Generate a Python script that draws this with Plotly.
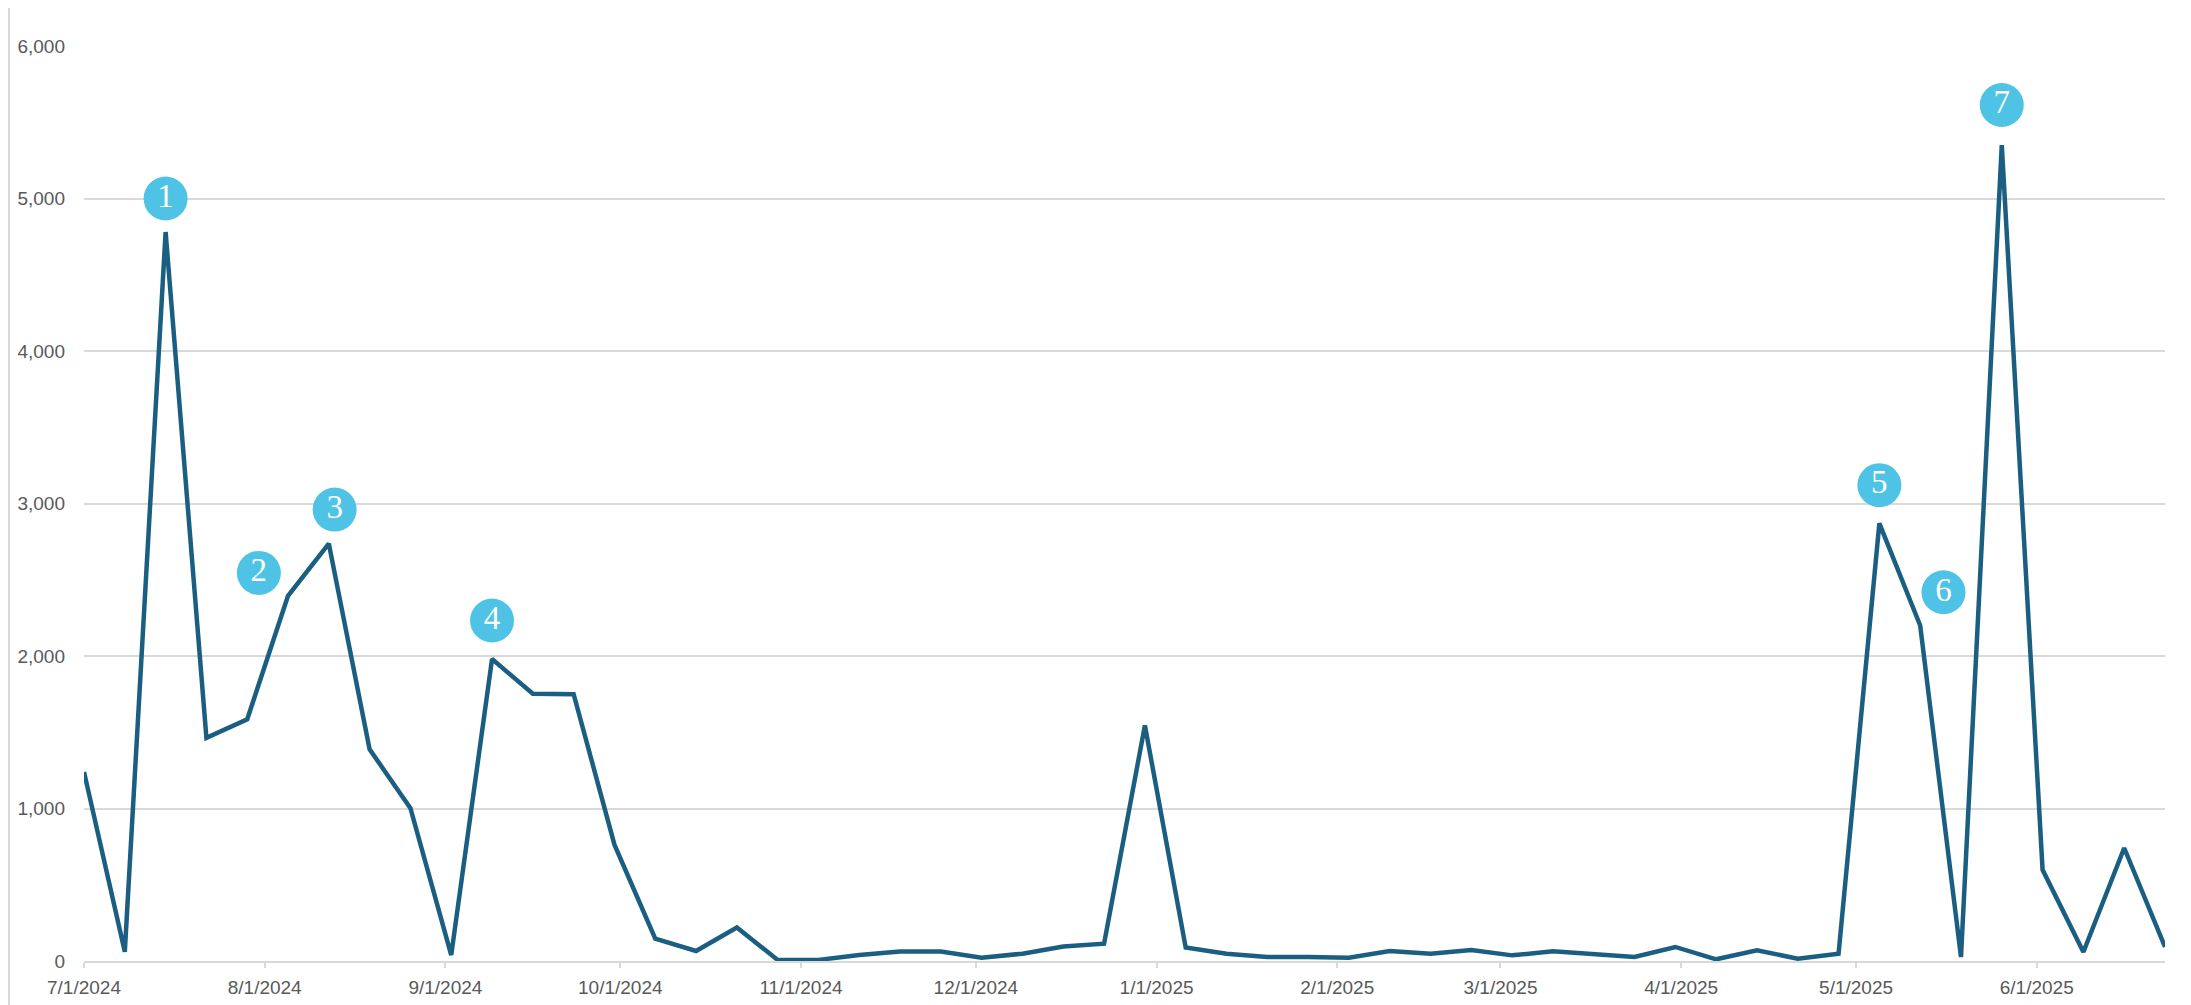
import pandas as pd
import plotly.graph_objects as go

# Weekly series starting 7/1/2024
start_date = "2024-07-01"
values = [1240, 60, 4780, 1463, 1585, 2395, 2737, 1388, 1002, 39,
          1980, 1752, 1750, 763, 147, 66, 220, 7, 7, 40,
          62, 62, 22, 48, 95, 114, 1545, 88, 48, 26,
          26, 22, 66, 48, 72, 37, 64, 48, 26, 92,
          11, 70, 15, 48, 2870, 2200, 26, 5350, 598, 59,
          741, 92]
dates = pd.date_range(start_date, periods=len(values), freq="7D")

# Numbered callouts
marker_labels = ["1", "2", "3", "4", "5", "6", "7"]
marker_dates = ["2024-07-15", "2024-07-31", "2024-08-13", "2024-09-09",
                "2025-05-05", "2025-05-16", "2025-05-26"]
marker_values = [5000, 2545, 2960, 2233, 3120, 2418, 5613]

tick_dates = pd.date_range("2024-07-01", "2025-06-01", freq="MS")
tick_text = [f"{d.month}/{d.day}/{d.year}" for d in tick_dates]

# page body has an 8px default margin; compensate
W, H = 2183, 997
ml, mr, mt, mb = 76, 26, 38, 44

fig = go.Figure()
fig.add_trace(go.Scatter(x=dates, y=values, mode="lines",
                         line=dict(color="#1A5F82", width=4.5),
                         hoverinfo="x+y", showlegend=False))
fig.add_trace(go.Scatter(x=pd.to_datetime(marker_dates), y=marker_values,
                         mode="markers+text", text=marker_labels,
                         textposition="middle center",
                         textfont=dict(family="Liberation Serif, DejaVu Serif, serif",
                                       size=33, color="white"),
                         marker=dict(size=44, color="#4EC3E6", line=dict(width=0)),
                         showlegend=False, hoverinfo="skip"))

fig.update_layout(
    width=W, height=H,
    margin=dict(l=ml, r=mr, t=mt, b=mb),
    paper_bgcolor="white", plot_bgcolor="white",
    font=dict(family="Liberation Sans, Arial, sans-serif",
              size=19, color="#595959"),
    xaxis=dict(range=[dates[0], dates[-1]], tickvals=tick_dates, ticktext=tick_text,
               showgrid=False, showline=True, linecolor="#D9D9D9", linewidth=1.5,
               ticks="outside", ticklen=5, tickcolor="#D9D9D9", tickwidth=1.5,
               ticklabelstandoff=3, automargin=False,
               tickfont=dict(size=19, color="#595959"), zeroline=False),
    yaxis=dict(range=[0, 6000], tickvals=[0, 1000, 2000, 3000, 4000, 5000, 6000],
               tickformat=",", showgrid=True, gridcolor="#D9D9D9", gridwidth=1.5,
               zeroline=False, showline=False, ticks="",
               ticklabelstandoff=18, automargin=False,
               tickfont=dict(size=19, color="#595959")),
)

pw = W - ml - mr
ph = H - mt - mb
fig.add_shape(type="line", xref="paper", yref="paper",
              x0=-(ml - 1) / pw, x1=-(ml - 1) / pw, y0=-mb / ph, y1=1 + mt / ph,
              line=dict(color="#D9D9D9", width=2))
fig.add_shape(type="line", xref="paper", yref="paper",
              x0=1 + (mr - 4) / pw, x1=1 + (mr - 4) / pw, y0=-mb / ph, y1=1 + mt / ph,
              line=dict(color="#D9D9D9", width=2))

fig.write_html("out.html")
